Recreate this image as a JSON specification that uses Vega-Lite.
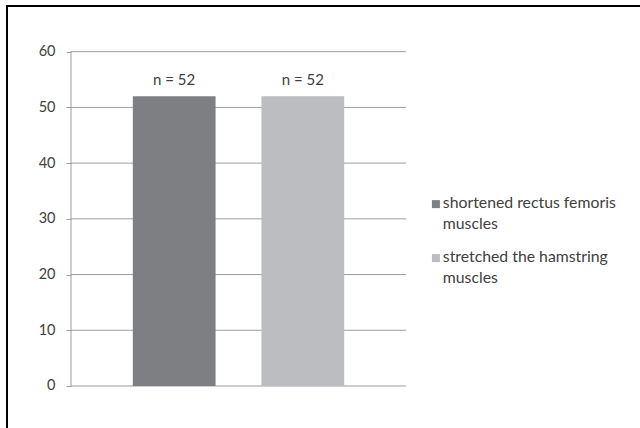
{
  "$schema": "https://vega.github.io/schema/vega-lite/v6.json",
  "width": 650,
  "height": 440,
  "autosize": {"type": "none"},
  "padding": {"left": 7, "top": 6, "right": 0, "bottom": 0},
  "background": "white",
  "config": {
    "view": {"stroke": "black", "strokeWidth": 2},
    "font": "Lato",
    "style": {"guide-label": {"lineHeight": 21}}
  },
  "datasets": {
    "bars": [
      {"cat": "c", "series": "shortened rectus femoris muscles", "value": 52, "label": "n = 52"},
      {"cat": "c", "series": "stretched the hamstring muscles", "value": 52, "label": "n = 52"}
    ],
    "grid": [{"g": 0}, {"g": 10}, {"g": 20}, {"g": 30}, {"g": 40}, {"g": 50}, {"g": 60}]
  },
  "layer": [
    {
      "data": {"name": "grid"},
      "mark": {"type": "rule", "color": "#9d9d9d", "strokeWidth": 1},
      "encoding": {
        "y": {
          "field": "g", "type": "quantitative", "title": null,
          "scale": {"domain": [-10.77, 68.2], "nice": false, "zero": false},
          "axis": {"offset": -64, "domain": false, "grid": false, "values": [0, 10, 20, 30, 40, 50, 60],
                   "tickSize": 5, "tickColor": "#9d9d9d", "labelColor": "#404040", "labelFontSize": 14.5,
                   "labelPadding": 11, "labelFont": "Lato", "title": null}
        },
        "x": {"datum": "c", "type": "nominal", "bandPosition": 0,
              "scale": {"type": "band", "paddingInner": 0, "paddingOuter": 0.4701, "align": 0.2032},
              "axis": null},
        "x2": {"datum": "c", "bandPosition": 1}
      }
    },
    {
      "data": {"values": [{}]},
      "mark": {"type": "rule", "color": "#9d9d9d", "strokeWidth": 1},
      "encoding": {
        "x": {"datum": "c", "type": "nominal", "bandPosition": 0, "axis": null},
        "y": {"datum": 0, "type": "quantitative", "title": null},
        "y2": {"datum": 60}
      }
    },
    {
      "data": {"name": "bars"},
      "mark": {"type": "bar"},
      "encoding": {
        "x": {"field": "cat", "type": "nominal", "axis": null},
        "xOffset": {"field": "series", "type": "nominal", "scale": {"paddingInner": 0.3566, "paddingOuter": 0.4806}},
        "y": {"field": "value", "type": "quantitative", "title": null},
        "y2": {"datum": 0},
        "color": {
          "field": "series", "type": "nominal",
          "scale": {"range": ["#7e7f83", "#bcbdc1"]},
          "legend": {
            "orient": "none", "legendX": 421, "legendY": 182, "title": null,
            "symbolType": "M-1,1.05H1V3.05H-1Z", "symbolSize": 64, "symbolStrokeWidth": 0,
            "labelFontSize": 15.8, "labelColor": "#404040", "labelFont": "Lato", "labelOffset": -1,
            "labelBaseline": "top", "rowPadding": 10, "labelLimit": 300,
            "labelExpr": "[slice(datum.label, 0, lastindexof(datum.label, ' ')), slice(datum.label, lastindexof(datum.label, ' ') + 1)]"
          }
        }
      }
    },
    {
      "data": {"name": "bars"},
      "mark": {"type": "text", "baseline": "alphabetic", "dy": -11, "fontSize": 15, "color": "#404040", "font": "Lato"},
      "encoding": {
        "x": {"field": "cat", "type": "nominal", "axis": null},
        "xOffset": {"field": "series", "type": "nominal"},
        "y": {"field": "value", "type": "quantitative", "title": null},
        "text": {"field": "label"}
      }
    }
  ]
}
